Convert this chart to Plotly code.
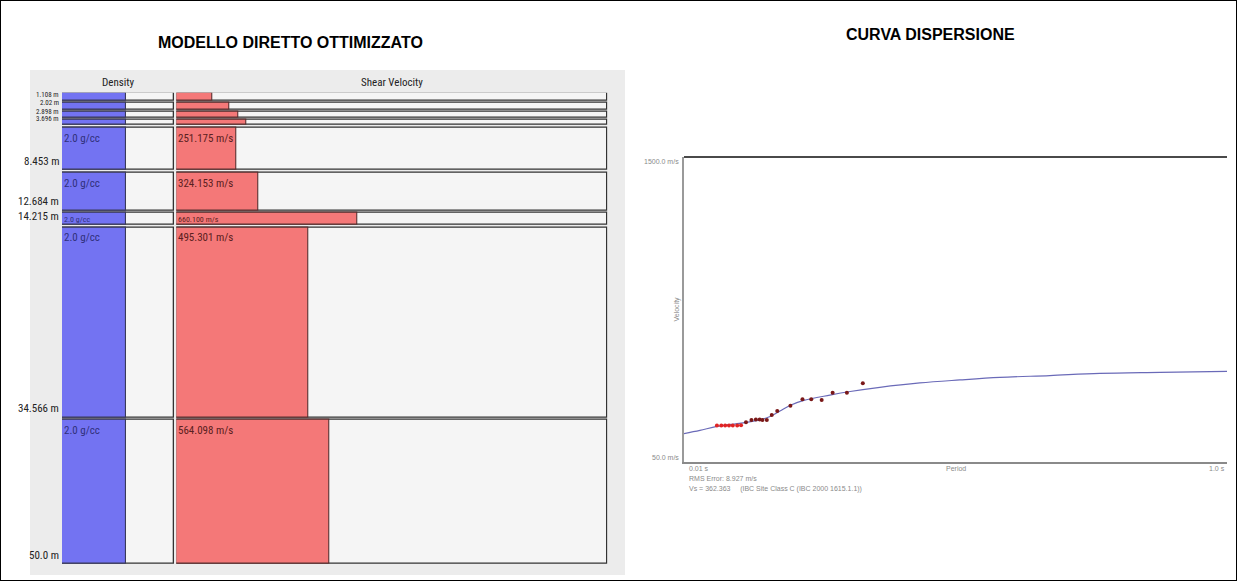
import plotly.graph_objects as go

W, H = 1237, 581

# ---- layered model (depth of layer bottom, density, shear velocity) ----
DEPTH_BOTTOM = [1.108, 2.02, 2.898, 3.696, 8.453, 12.684, 14.215, 34.566, 50.0]
DENSITY = [2.0, 2.0, 2.0, 2.0, 2.0, 2.0, 2.0, 2.0, 2.0]
SHEAR_VEL = [170.344, 226.9, 259.1, 286.0, 251.175, 324.153, 660.100, 495.301, 564.098]

# ---- dispersion curve: model (line) and picked points ----
PERIOD_MODEL = [0.010, 0.039, 0.070, 0.114, 0.149, 0.167, 0.185, 0.203, 0.227, 0.276,
                0.313, 0.367, 0.440, 0.513, 0.586, 0.677, 0.768, 0.878, 1.000]
VEL_MODEL = [185, 200, 219, 235, 250, 266, 292, 319, 342, 368,
             385, 405, 426, 440, 452, 461, 471, 476, 481]
PERIOD_OBS = [0.070, 0.078, 0.085, 0.092, 0.099, 0.107, 0.114, 0.123, 0.133, 0.141,
              0.148, 0.153, 0.161, 0.170, 0.180, 0.204, 0.226, 0.242, 0.261, 0.281,
              0.307, 0.336]
VEL_OBS = [223, 223, 223, 223, 224, 224, 225, 239, 250, 252,
           252, 250, 250, 273, 292, 318, 348, 348, 345, 379,
           379, 424]

V_MIN, V_MAX = 50.0, 1500.0
DENS_MAX = 3.5
P_MIN, P_MAX = 0.01, 1.0
RMS_TEXT = "RMS Error: 8.927 m/s"
VS_TEXT = "Vs = 362.363     (IBC Site Class C (IBC 2000 1615.1.1))"

GAP = 0.27  # spacing between layer boxes (m)

NARROW = ("Noto Sans ExtraCondensed, Roboto Condensed, Noto Sans Condensed, "
          "Liberation Sans Narrow, DejaVu Sans Condensed, sans-serif")
ARIAL = "Liberation Sans, Arial, sans-serif"

FRAME_FILL = "#f5f5f5"
FRAME_LINE = "#333333"
BLUE = "#7373f2"
RED = "#f47878"


def px_x(x):
    return x / W


def px_y(y):
    return 1 - y / H


tops = [0.0] + DEPTH_BOTTOM[:-1]
thick = [b - t for t, b in zip(tops, DEPTH_BOTTOM)]
mids = [t + (th - GAP) / 2 for t, th in zip(tops, thick)]
widths = [th - GAP for th in thick]
n = len(DEPTH_BOTTOM)

fig = go.Figure()

# density column: frames then filled bars
fig.add_trace(go.Bar(
    x=[DENS_MAX] * n, y=mids, width=widths, orientation="h", base=0,
    marker=dict(color=FRAME_FILL, line=dict(color=FRAME_LINE, width=1.3)),
    xaxis="x", yaxis="y", hoverinfo="skip", showlegend=False))
fig.add_trace(go.Bar(
    x=DENSITY, y=mids, width=widths, orientation="h", base=0,
    marker=dict(color=BLUE, line=dict(color="#3a3a5a", width=1.1)),
    xaxis="x", yaxis="y", showlegend=False, name="Density"))

# shear velocity column: frames then filled bars
fig.add_trace(go.Bar(
    x=[V_MAX - V_MIN] * n, y=mids, width=widths, orientation="h", base=V_MIN,
    marker=dict(color=FRAME_FILL, line=dict(color=FRAME_LINE, width=1.3)),
    xaxis="x2", yaxis="y", hoverinfo="skip", showlegend=False))
fig.add_trace(go.Bar(
    x=[v - V_MIN for v in SHEAR_VEL], y=mids, width=widths, orientation="h", base=V_MIN,
    marker=dict(color=RED, line=dict(color="#5a3030", width=1.1)),
    xaxis="x2", yaxis="y", showlegend=False, name="Shear Velocity"))

# dispersion curve
fig.add_trace(go.Scatter(
    x=PERIOD_MODEL, y=VEL_MODEL, mode="lines",
    line=dict(color="#6a6ab8", width=1.2, shape="spline"),
    xaxis="x3", yaxis="y3", showlegend=False))
# picks: the dense short-period cluster is drawn in bright red, the rest darker
pick_colors = ["#e02424" if p < 0.12 else "#7a1818" for p in PERIOD_OBS]
fig.add_trace(go.Scatter(
    x=PERIOD_OBS, y=VEL_OBS, mode="markers",
    marker=dict(color=pick_colors, size=4, line=dict(width=0)),
    xaxis="x3", yaxis="y3", showlegend=False))

annotations = []

# depth labels at the bottom of each layer (smaller where layers are thin)
for d, th in zip(DEPTH_BOTTOM, thick):
    annotations.append(dict(
        text=f"{d} m", x=0, xref="x", y=d - GAP, yref="y",
        xanchor="right", yanchor="bottom", xshift=-1, showarrow=False,
        font=dict(family=NARROW, size=11 if th > 1.2 else 7, color="#222")))

# value labels inside the thicker layers
for t, th, dens, vs in zip(tops, thick, DENSITY, SHEAR_VEL):
    if th < 1.5:
        continue
    size = 11 if th > 2 else 8
    annotations.append(dict(
        text=f"{dens:.1f} g/cc", x=0, xref="x", y=t, yref="y",
        xanchor="left", yanchor="top", yshift=-2 if th > 2 else 0, showarrow=False,
        font=dict(family=NARROW, size=size, color="#30307a")))
    annotations.append(dict(
        text=f"{vs:.3f} m/s", x=V_MIN, xref="x2", y=t, yref="y",
        xanchor="left", yanchor="top", yshift=-2 if th > 2 else 0, showarrow=False,
        font=dict(family=NARROW, size=size, color="#5a2020")))

# column headers
annotations.append(dict(text="Density", x=0.5, xref="x domain", y=px_y(83), yref="paper",
                        xanchor="center", yanchor="middle", showarrow=False,
                        font=dict(family=NARROW, size=11, color="#222")))
annotations.append(dict(text="Shear Velocity", x=0.5, xref="x2 domain", y=px_y(83), yref="paper",
                        xanchor="center", yanchor="middle", showarrow=False,
                        font=dict(family=NARROW, size=11, color="#222")))

# panel titles
annotations.append(dict(text="<b>MODELLO DIRETTO OTTIMIZZATO</b>", x=px_x(290), y=px_y(43),
                        xref="paper", yref="paper", xanchor="center", yanchor="middle",
                        showarrow=False, font=dict(family=ARIAL, size=16, color="#000")))
annotations.append(dict(text="<b>CURVA DISPERSIONE</b>", x=px_x(930), y=px_y(35),
                        xref="paper", yref="paper", xanchor="center", yanchor="middle",
                        showarrow=False, font=dict(family=ARIAL, size=16, color="#000")))

# dispersion axis labels
SMALL = dict(family=ARIAL, size=7, color="#8a8a8a")
annotations += [
    dict(text=f"{V_MAX:.1f} m/s", x=0, xref="x3 domain", y=1, yref="y3 domain",
         xanchor="right", yanchor="middle", xshift=-3, yshift=-4, showarrow=False, font=SMALL),
    dict(text=f"{V_MIN:.1f} m/s", x=0, xref="x3 domain", y=0, yref="y3 domain",
         xanchor="right", yanchor="middle", xshift=-3, yshift=5, showarrow=False, font=SMALL),
    dict(text="Velocity", x=0, xref="x3 domain", y=0.5, yref="y3 domain", textangle=-90,
         xanchor="right", yanchor="middle", xshift=-2, showarrow=False, font=SMALL),
    dict(text=f"{P_MIN} s", x=0, xref="x3 domain", y=0, yref="y3 domain",
         xanchor="left", yanchor="top", xshift=3, yshift=-1, showarrow=False, font=SMALL),
    dict(text="Period", x=0.5, xref="x3 domain", y=0, yref="y3 domain",
         xanchor="center", yanchor="top", yshift=-1, showarrow=False, font=SMALL),
    dict(text=f"{P_MAX} s", x=1, xref="x3 domain", y=0, yref="y3 domain",
         xanchor="right", yanchor="top", yshift=-1, showarrow=False, font=SMALL),
    dict(text=RMS_TEXT, x=0, xref="x3 domain", y=0, yref="y3 domain",
         xanchor="left", yanchor="top", xshift=3, yshift=-11, showarrow=False, font=SMALL),
    dict(text=VS_TEXT, x=0, xref="x3 domain", y=0, yref="y3 domain",
         xanchor="left", yanchor="top", xshift=3, yshift=-21, showarrow=False, font=SMALL),
]

shapes = [
    # grey panel behind the layer model
    dict(type="rect", xref="paper", yref="paper", x0=px_x(30), x1=px_x(625),
         y0=px_y(575), y1=px_y(70), fillcolor="#ececec", line=dict(width=0), layer="below"),
    # top frame line of the dispersion plot
    dict(type="line", xref="x3 domain", yref="y3 domain", x0=0, x1=1, y0=1, y1=1,
         line=dict(color="#4a4a4a", width=2)),
    # outer border
    dict(type="rect", xref="paper", yref="paper", x0=0, x1=1, y0=0, y1=1,
         line=dict(color="#000", width=2)),
]

hidden = dict(showgrid=False, zeroline=False, showticklabels=False, ticks="", showline=False)

fig.update_layout(
    width=W, height=H,
    margin=dict(l=0, r=0, t=0, b=0),
    paper_bgcolor="white", plot_bgcolor="rgba(0,0,0,0)",
    barmode="overlay", bargap=0,
    xaxis=dict(domain=[px_x(62), px_x(174.3)], range=[0, DENS_MAX], anchor="y", **hidden),
    xaxis2=dict(domain=[px_x(176.3), px_x(607.5)], range=[V_MIN, V_MAX], anchor="y", **hidden),
    yaxis=dict(domain=[px_y(566.2), px_y(92.7)], range=[50, 0], anchor="x", **hidden),
    xaxis3=dict(domain=[px_x(684), px_x(1227)], range=[P_MIN, P_MAX], anchor="y3",
                showgrid=False, zeroline=False, showticklabels=False, ticks="",
                showline=True, linecolor="#8a8a8a", linewidth=2),
    yaxis3=dict(domain=[px_y(462), px_y(157)], range=[V_MIN, V_MAX], anchor="x3",
                showgrid=False, zeroline=False, showticklabels=False, ticks="",
                showline=True, linecolor="#9a9a9a", linewidth=2),
    annotations=annotations,
    shapes=shapes,
)

fig.write_html("out.html")
